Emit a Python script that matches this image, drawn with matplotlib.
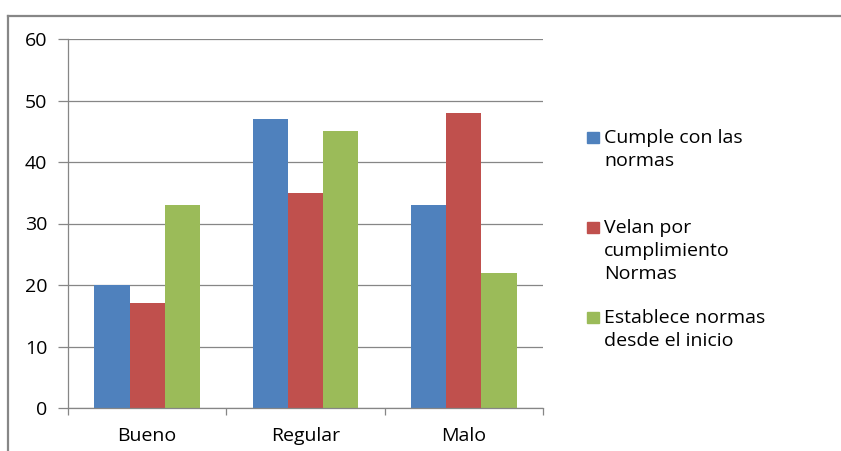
import matplotlib
matplotlib.use("Agg")
import matplotlib.pyplot as plt
import numpy as np
from matplotlib.lines import Line2D
from matplotlib.patches import Rectangle

categories = ["Bueno", "Regular", "Malo"]
series_lines = [["Cumple con las", "normas"],
                ["Velan por", "cumplimiento", "Normas"],
                ["Establece normas", "desde el inicio"]]
cumple = [20, 47, 33]
velan = [17, 35, 48]
establece = [33, 45, 22]
colors = ["#4F81BD", "#C0504D", "#9BBB59"]
yticks = [0, 10, 20, 30, 40, 50, 60]

plt.rcParams['font.family'] = ['Open Sans', 'DejaVu Sans']
FS = 14
W, H = 841, 451
fig = plt.figure(figsize=(W / 100, H / 100), dpi=100)
ax = fig.add_axes([68 / W, 1 - 408 / H, (543 - 68) / W, (408 - 39) / H])

x = np.arange(len(categories))
bw = 1 / 4.5
for i, vals in enumerate([cumple, velan, establece]):
    ax.bar(x + (i - 1) * bw, vals, width=bw, color=colors[i], zorder=3)

ax.set_xlim(-0.5, len(categories) - 0.5)
ax.set_ylim(0, 60)
ax.set_yticks(yticks)
ax.set_yticklabels([str(v) for v in yticks])
for v in yticks:
    ax.axhline(v, color="#868686", lw=0.9, zorder=1)
ax.set_xticks(x)
ax.set_xticklabels(categories)
ax.set_xticks(np.arange(-0.5, len(categories)), minor=True)
ax.tick_params(axis='x', which='major', length=0, pad=13.5, labelsize=FS, colors="#000000")
ax.tick_params(axis='x', which='minor', length=5, color="#868686", width=0.9)
ax.tick_params(axis='y', length=7, color="#868686", width=0.9, pad=8, labelsize=FS)
for s in ['top', 'right']:
    ax.spines[s].set_visible(False)
for s in ['left', 'bottom']:
    ax.spines[s].set_color("#868686")
    ax.spines[s].set_linewidth(0.9)
ax.spines['bottom'].set_zorder(4)

# legend drawn manually (baseline of first line, square top)
leg_base = [143, 233, 323]
for lines, c, yb in zip(series_lines, colors, leg_base):
    fig.add_artist(Rectangle((587 / W, 1 - (yb) / H), 12 / W, 11 / H,
                             transform=fig.transFigure, color=c))
    for k, line in enumerate(lines):
        fig.text(604 / W, 1 - (yb + 23 * k) / H, line, fontsize=FS,
                 va='baseline', ha='left')

# outer frame
fig.add_artist(Line2D([8 / W, 1.0], [1 - 16 / H, 1 - 16 / H], transform=fig.transFigure,
                      color="#878787", lw=1.6))
fig.add_artist(Line2D([8 / W, 8 / W], [1 - 16 / H, 0], transform=fig.transFigure,
                      color="#878787", lw=1.6))

fig.savefig("out.png", dpi=100)
